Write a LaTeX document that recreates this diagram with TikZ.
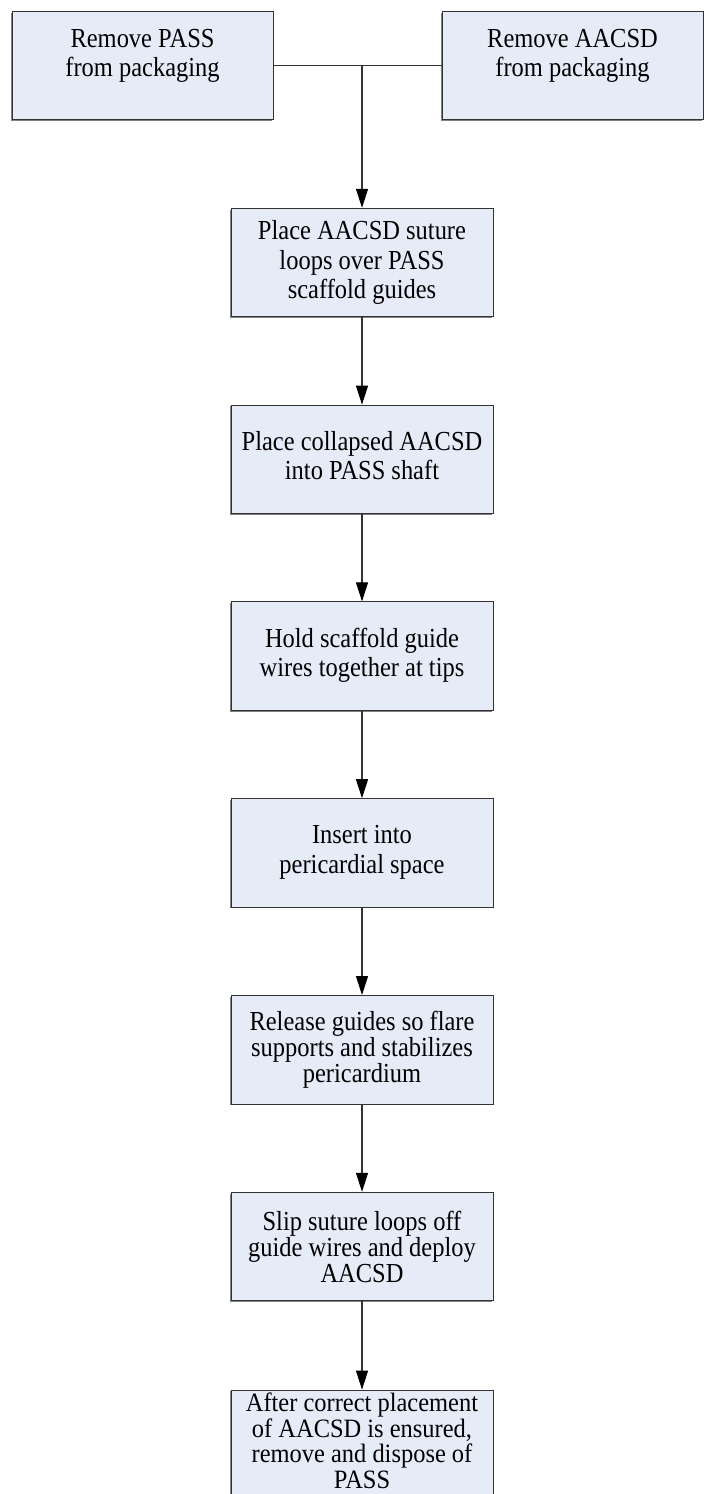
\documentclass[tikz,border=0pt]{standalone}
\usepackage{fontspec}
\setmainfont[FakeStretch=0.89]{Liberation Serif}
\usetikzlibrary{arrows.meta,shadows}
\definecolor{boxfill}{RGB}{230,236,247}
\begin{document}
\begin{tikzpicture}[x=1pt,y=-1pt,
  stepbox/.style={draw=black!80, line width=0.9pt, fill=boxfill,
    minimum width=262pt, minimum height=108.5pt, inner sep=0pt,
    align=center, font=\fontsize{27.5}{29.5}\selectfont,
    drop shadow={shadow xshift=-1.3pt, shadow yshift=-1.3pt, fill=black!50, opacity=1}},
  tight/.style={font=\fontsize{27.5}{26}\selectfont},
  tighter/.style={font=\fontsize{26.5}{25.5}\selectfont\addfontfeatures{FakeStretch=0.923}},
  conn/.style={draw=black!80, line width=1.1pt},
  arr/.style={conn, -{Triangle[width=12pt,length=19pt,fill=black,color=black]}}]
\useasboundingbox (0,0) rectangle (704,1494);
\node[stepbox, minimum width=261pt] (a1) at (142.5,65.5) {Remove PASS\\from packaging\\[-4pt]\mbox{}};
\node[stepbox, minimum width=261pt] (a2) at (572.5,65.5) {Remove AACSD\\from packaging\\[-4pt]\mbox{}};
\node[stepbox] (b1) at (362,262.5) {Place AACSD suture\\loops over PASS\\scaffold guides};
\node[stepbox] (b2) at (362,459.3) {Place collapsed AACSD\\into PASS shaft\\[-22pt]\mbox{}};
\node[stepbox] (b3) at (362,656.1) {Hold scaffold guide\\wires together at tips\\[-22pt]\mbox{}};
\node[stepbox] (b4) at (362,852.9) {Insert into\\pericardial space\\[-22pt]\mbox{}};
\node[stepbox, tight] (b5) at (362,1049.7) {Release guides so flare\\supports and stabilizes\\pericardium};
\node[stepbox, tight] (b6) at (362,1246.5) {Slip suture loops off\\guide wires and deploy\\AACSD};
\node[stepbox, tighter] (b7) at (362,1444.3) {After correct placement\\of AACSD is ensured,\\remove and dispose of\\PASS\\[-18pt]\mbox{}};
\coordinate (j) at (362,65.5);
\draw[conn] (a1.east) -- (a2.west);
\draw[arr] (j) -- (b1.north);
\draw[arr] (b1) -- (b2);
\draw[arr] (b2) -- (b3);
\draw[arr] (b3) -- (b4);
\draw[arr] (b4) -- (b5);
\draw[arr] (b5) -- (b6);
\draw[arr] (b6) -- (b7);
\end{tikzpicture}
\end{document}
